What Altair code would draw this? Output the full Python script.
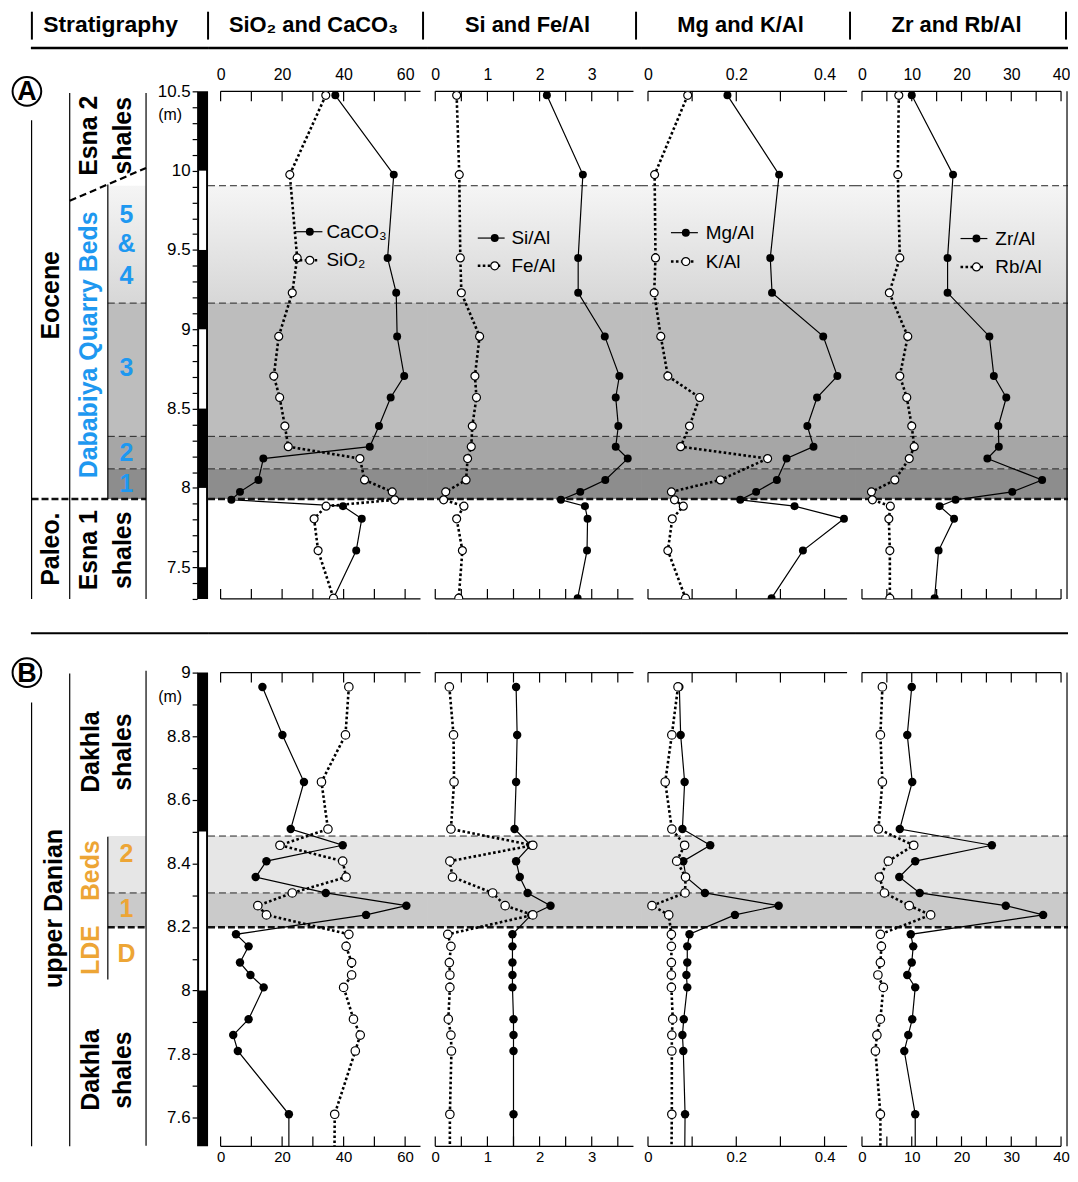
import altair as alt
import pandas as pd

FONT = "Liberation Sans"
NARROW = "Liberation Sans Narrow, Liberation Sans, Arial, sans-serif"
BLUE = "#1E98F0"
ORANGE = "#EDA535"

# ---------------- Section A (Eocene / Dababiya) ----------------
depth_A = [10.475, 9.975, 9.45, 9.23, 8.955, 8.705, 8.57, 8.39, 8.26, 8.185,
           8.05, 7.975, 7.925, 7.885, 7.805, 7.605, 7.305]
caco3_A = [37.3, 56.3, 54.3, 57.1, 57.4, 59.7, 55.3, 51.5, 48.5, 13.9, 12.3, 6.3, 3.5, 39.8, 45.9, 44.1, 36.7]
sio2_A = [34.2, 22.5, 24.9, 23.3, 18.9, 17.3, 19.2, 20.9, 22.0, 45.3, 46.8, 55.8, 56.6, 34.3, 30.4, 31.7, 36.7]
si_al_A = [2.14, 2.83, 2.74, 2.74, 3.25, 3.53, 3.46, 3.51, 3.46, 3.69, 3.26, 2.78, 2.41, 2.87, 2.92, 2.91, 2.73]
fe_al_A = [0.41, 0.46, 0.48, 0.50, 0.85, 0.76, 0.79, 0.71, 0.69, 0.62, 0.59, 0.20, 0.16, 0.55, 0.41, 0.52, 0.45]
mg_al_A = [0.180, 0.297, 0.277, 0.281, 0.397, 0.429, 0.383, 0.361, 0.375, 0.314, 0.292, 0.245, 0.209, 0.332, 0.444, 0.351, 0.280]
k_al_A = [0.090, 0.015, 0.017, 0.014, 0.029, 0.045, 0.117, 0.094, 0.074, 0.271, 0.164, 0.053, 0.060, 0.080, 0.055, 0.045, 0.085]
zr_al_A = [10.0, 18.3, 17.2, 17.2, 25.6, 26.5, 29.0, 27.4, 27.5, 25.2, 36.2, 30.2, 18.8, 15.6, 18.5, 15.4, 14.6]
rb_al_A = [7.4, 7.2, 7.6, 5.5, 9.2, 7.6, 9.0, 10.0, 10.5, 9.5, 6.6, 1.9, 2.1, 5.7, 5.4, 5.6, 5.6]

# ---------------- Section B (upper Danian / LDE) ----------------
depth_B = [8.955, 8.804, 8.656, 8.508, 8.457, 8.407, 8.357, 8.307, 8.267, 8.238,
           8.177, 8.139, 8.088, 8.049, 8.010, 7.910, 7.860, 7.810, 7.611, 7.45]
caco3_B = [13.6, 20.1, 27.1, 22.8, 39.7, 14.9, 11.4, 34.2, 60.4, 47.3, 5.0, 9.1, 6.3, 9.7, 14.0, 9.1, 4.1, 5.6, 22.2, 22.2]
sio2_B = [41.7, 40.6, 32.8, 34.9, 19.3, 39.7, 40.8, 23.3, 12.1, 14.9, 41.7, 40.8, 42.6, 42.6, 40.0, 43.2, 45.4, 43.8, 37.1, 37.0]
si_al_B = [1.55, 1.57, 1.55, 1.52, 1.83, 1.55, 1.62, 1.77, 2.21, 1.84, 1.48, 1.48, 1.48, 1.48, 1.48, 1.50, 1.50, 1.50, 1.50, 1.50]
fe_al_B = [0.27, 0.35, 0.36, 0.30, 1.87, 0.28, 0.33, 1.10, 1.34, 1.87, 0.24, 0.30, 0.27, 0.28, 0.28, 0.25, 0.30, 0.31, 0.28, 0.28]
mg_al_B = [0.071, 0.074, 0.083, 0.078, 0.141, 0.080, 0.086, 0.129, 0.296, 0.197, 0.094, 0.089, 0.089, 0.087, 0.089, 0.081, 0.078, 0.080, 0.084, 0.083]
k_al_B = [0.068, 0.054, 0.039, 0.054, 0.083, 0.065, 0.085, 0.084, 0.009, 0.047, 0.053, 0.053, 0.053, 0.053, 0.053, 0.056, 0.054, 0.054, 0.054, 0.053]
zr_al_B = [10.0, 9.1, 10.1, 7.6, 26.1, 10.7, 7.5, 11.6, 28.9, 36.4, 9.8, 10.3, 10.0, 9.1, 10.7, 10.1, 9.3, 8.5, 10.7, 10.7]
rb_al_B = [4.1, 3.7, 4.1, 3.3, 10.4, 5.3, 3.5, 4.5, 9.5, 13.8, 3.7, 3.9, 3.7, 3.2, 4.3, 3.7, 3.0, 2.7, 3.7, 3.7]

# ---------------- stratigraphic boundaries ----------------
band_top_A = [9.165, 8.325, 8.12]
band_bot_A = [8.325, 8.12, 7.93]
band_col_A = ["#bdbdbd", "#a6a6a6", "#8d8d8d"]
grad_band_A = [9.905, 9.165]
thin_A = [9.905, 9.165, 8.325, 8.12]
heavy_A = [7.93]

band_top_B = [8.486, 8.307]
band_bot_B = [8.307, 8.199]
band_col_B = ["#e6e6e6", "#cacaca"]
thin_B = [8.486, 8.307]
heavy_B = [8.199]

# ---------------- panel axes ----------------
header_names = ["Stratigraphy", "SiO\u2082 and CaCO\u2083", "Si and Fe/Al", "Mg and K/Al", "Zr and Rb/Al"]
panel_w = [220, 215, 215, 214]
panel_xdom = [[-4.08, 67.12], [-0.158, 3.945], [-0.0158, 0.469], [-1.4, 41.4]]
panel_ticks = [[0, 10, 20, 30, 40, 50, 60],
               [0, 0.5, 1, 1.5, 2, 2.5, 3, 3.5],
               [0, 0.1, 0.2, 0.3, 0.4],
               [0, 5, 10, 15, 20, 25, 30, 35, 40]]
panel_labels = [[0, 20, 40, 60], [0, 1, 2, 3], [0, 0.2, 0.4], [0, 10, 20, 30, 40]]
panel_amax = [65, 3.8, 0.451, 40]

solid_names = ["CaCO\u2083", "Si/Al", "Mg/Al", "Zr/Al"]
dotted_names = ["SiO\u2082", "Fe/Al", "K/Al", "Rb/Al"]

# legend placement (data units of each panel, depth)
leg_seg = [[24.1, 33.1], [0.815, 1.33], [0.052, 0.113], [19.8, 25.2]]
leg_mark = [29.0, 1.14, 0.0857, 23.0]
leg_text = [34.4, 1.46, 0.131, 26.8]
leg_depth_solid = [9.615, 9.575, 9.609, 9.572]
leg_depth_dotted = [9.435, 9.40, 9.427, 9.393]

# page-x extents of the five layout columns
col_bounds = [[8, 208], [208, 428], [428, 643], [643, 858], [858, 1072]]
header_x = [110, 314, 529, 743, 960]
header_fs = [23, 22, 22, 22, 22]
header_sep_x = [31, 208, 424, 638, 853, 1070]

GRAD = alt.Gradient(gradient="linear",
                    stops=[alt.GradientStop(color="#f5f5f5", offset=0),
                           alt.GradientStop(color="#d7d7d7", offset=1)],
                    x1=0, x2=0, y1=0, y2=1)

DOT = [2.6, 2.4]


def series_df(depths, vals):
    return pd.DataFrame({"depth": depths, "v": vals, "i": list(range(len(depths)))})


def make_panel(k, sec, solid, dotted, depths, legend):
    w = panel_w[k]
    H = sec["h"]
    xs = alt.Scale(domain=panel_xdom[k], nice=False, zero=False)
    ys = alt.Scale(domain=sec["ydom"], nice=False, zero=False)
    ax = alt.Axis(orient=sec["orient"], values=panel_labels[k], ticks=False, tickSize=0,
                  domain=False, grid=False, title=None, labelFontSize=sec["lfs"], labelFont=NARROW,
                  labelPadding=sec["lp"], labelOverlap=False, labelFlush=False, format="~r",
                  labelColor="black")

    def X(f):
        return alt.X(f, scale=xs, axis=ax)

    def Y(f):
        return alt.Y(f, scale=ys, axis=None)

    L = []
    bdf = pd.DataFrame({"top": sec["btop"], "bot": sec["bbot"], "fill": sec["bcol"]})
    L.append(alt.Chart(bdf).mark_rect().encode(
        x=alt.value(0), x2=alt.value(w), y=Y("top:Q"), y2="bot:Q",
        color=alt.Color("fill:N", scale=None)))
    if sec["grad"] is not None:
        gdf = pd.DataFrame({"top": [sec["grad"][0]], "bot": [sec["grad"][1]]})
        L.append(alt.Chart(gdf).mark_rect(color=GRAD).encode(
            x=alt.value(0), x2=alt.value(w), y=Y("top:Q"), y2="bot:Q"))
    L.append(alt.Chart(pd.DataFrame({"d": sec["thin"]})).mark_rule(
        color="#222222", strokeWidth=1, strokeDash=[7, 4]).encode(
        y=Y("d:Q"), x=alt.value(0), x2=alt.value(w)))
    L.append(alt.Chart(pd.DataFrame({"d": sec["heavy"]})).mark_rule(
        color="#111111", strokeWidth=2.6, strokeDash=[7, 3]).encode(
        y=Y("d:Q"), x=alt.value(0), x2=alt.value(w)))
    adf = pd.DataFrame({"a": [0], "b": [panel_amax[k]]})
    for yy in (0, H):
        L.append(alt.Chart(adf).mark_rule(color="black", strokeWidth=1.2).encode(
            x=X("a:Q"), x2="b:Q", y=alt.value(yy)))
    tdf = pd.DataFrame({"t": panel_ticks[k]})
    L.append(alt.Chart(tdf).mark_rule(color="black", strokeWidth=1.2).encode(
        x=X("t:Q"), y=alt.value(0), y2=alt.value(10)))
    L.append(alt.Chart(tdf).mark_rule(color="black", strokeWidth=1.2).encode(
        x=X("t:Q"), y=alt.value(H - 10), y2=alt.value(H)))
    if k == 3:
        L.append(alt.Chart(pd.DataFrame({"r": [41.2]})).mark_rule(color="black", strokeWidth=1.2).encode(
            x=X("r:Q"), y=alt.value(0), y2=alt.value(H)))
    sdf = series_df(depths, solid)
    ddf = series_df(depths, dotted)
    L.append(alt.Chart(ddf).mark_line(color="black", strokeWidth=2.6, strokeDash=DOT,
                                      strokeCap="butt", clip=True).encode(
        x=X("v:Q"), y=Y("depth:Q"), order="i:Q"))
    L.append(alt.Chart(sdf).mark_line(color="black", strokeWidth=1.2, clip=True).encode(
        x=X("v:Q"), y=Y("depth:Q"), order="i:Q"))
    L.append(alt.Chart(sdf).mark_point(shape="circle", filled=True, color="black", opacity=1,
                                       size=sec["ms"], clip=True).encode(
        x=X("v:Q"), y=Y("depth:Q")))
    L.append(alt.Chart(ddf).mark_point(shape="circle", filled=True, fill="white", stroke="black",
                                       strokeWidth=1.2, opacity=1, size=sec["ms"], clip=True).encode(
        x=X("v:Q"), y=Y("depth:Q")))
    if legend:
        seg = pd.DataFrame({"x1": [leg_seg[k][0]], "x2": [leg_seg[k][1]],
                            "d": [leg_depth_solid[k]]})
        segd = pd.DataFrame({"x1": [leg_seg[k][0]], "x2": [leg_seg[k][1] - 0.1 * (leg_seg[k][1] - leg_seg[k][0])],
                             "d": [leg_depth_dotted[k]]})
        L.append(alt.Chart(seg).mark_rule(color="black", strokeWidth=1.2).encode(
            x=X("x1:Q"), x2="x2:Q", y=Y("d:Q")))
        L.append(alt.Chart(segd).mark_rule(color="black", strokeWidth=2.6, strokeDash=DOT).encode(
            x=X("x1:Q"), x2="x2:Q", y=Y("d:Q")))
        ms = pd.DataFrame({"x": [leg_mark[k]], "d": [leg_depth_solid[k]]})
        md = pd.DataFrame({"x": [leg_mark[k]], "d": [leg_depth_dotted[k]]})
        L.append(alt.Chart(ms).mark_point(shape="circle", filled=True, color="black", opacity=1,
                                          size=sec["ms"]).encode(x=X("x:Q"), y=Y("d:Q")))
        L.append(alt.Chart(md).mark_point(shape="circle", filled=True, fill="white", stroke="black",
                                          strokeWidth=1.2, opacity=1, size=sec["ms"]).encode(
            x=X("x:Q"), y=Y("d:Q")))
        lt = pd.DataFrame({"x": [leg_text[k], leg_text[k]],
                           "d": [leg_depth_solid[k], leg_depth_dotted[k]],
                           "t": [solid_names[k], dotted_names[k]]})
        L.append(alt.Chart(lt).mark_text(align="left", baseline="middle", fontSize=19,
                                         font=FONT, color="black").encode(
            x=X("x:Q"), y=Y("d:Q"), text="t:N"))
    return alt.layer(*L).properties(width=w, height=H)


def make_strat(sec, st):
    H = sec["h"]
    xs = alt.Scale(domain=[8, 208], nice=False, zero=False)
    ys = alt.Scale(domain=sec["ydom"], nice=False, zero=False)
    yax = alt.Axis(orient="left", offset=-189, values=sec["yvals"], labelExpr=sec["lexpr"],
                   tickSize=5, tickWidth=1.2, tickColor="black", domain=False, grid=False,
                   title=None, labelFontSize=17, labelFont=FONT, labelPadding=2,
                   labelColor="black", format=".1~f", labelOverlap=False, labelFlush=False)

    def X(f):
        return alt.X(f, scale=xs, axis=None)

    def Y(f):
        return alt.Y(f, scale=ys, axis=yax)

    L = []
    bdf = pd.DataFrame({"top": sec["btop"], "bot": sec["bbot"], "fill": sec["bcol"],
                        "x1": [107.3] * len(sec["btop"]), "x2": [145.7] * len(sec["btop"])})
    L.append(alt.Chart(bdf).mark_rect().encode(
        x=X("x1:Q"), x2="x2:Q", y=Y("top:Q"), y2="bot:Q",
        color=alt.Color("fill:N", scale=None)))
    if sec["grad"] is not None:
        gdf = pd.DataFrame({"top": [sec["grad"][0]], "bot": [sec["grad"][1]],
                            "x1": [107.3], "x2": [145.7]})
        L.append(alt.Chart(gdf).mark_rect(color=GRAD).encode(
            x=X("x1:Q"), x2="x2:Q", y=Y("top:Q"), y2="bot:Q"))
    L.append(alt.Chart(st["thin"]).mark_rule(color="#222222", strokeWidth=1, strokeDash=[7, 4]).encode(
        x=X("x1:Q"), x2="x2:Q", y=Y("d:Q")))
    L.append(alt.Chart(st["heavy"]).mark_rule(color="#111111", strokeWidth=2.6, strokeDash=[7, 3]).encode(
        x=X("x1:Q"), x2="x2:Q", y=Y("d:Q")))
    L.append(alt.Chart(st["vlines"]).mark_rule(color="black", strokeWidth=1.2).encode(
        x=X("x:Q"), y=Y("y1:Q"), y2="y2:Q"))
    if st.get("diag") is not None:
        L.append(alt.Chart(st["diag"]).mark_line(color="black", strokeWidth=2.2, strokeDash=[7, 4]).encode(
            x=X("x:Q"), y=Y("d:Q"), order="x:Q"))
    bar = pd.DataFrame({"x1": [197.0], "x2": [208.0], "top": [sec["ydom"][1]], "bot": [sec["ydom"][0]]})
    L.append(alt.Chart(bar).mark_rect(color="black").encode(
        x=X("x1:Q"), x2="x2:Q", y=Y("top:Q"), y2="bot:Q"))
    L.append(alt.Chart(st["white"]).mark_rect(color="white").encode(
        x=X("x1:Q"), x2="x2:Q", y=Y("top:Q"), y2="bot:Q"))
    L.append(alt.Chart(st["rot"]).mark_text(angle=270, align="center", baseline="middle",
                                            fontSize=25, fontWeight="bold", font=FONT).encode(
        x=X("x:Q"), y=Y("d:Q"), text="t:N", color=alt.Color("c:N", scale=None)))
    L.append(alt.Chart(st["up"]).mark_text(align="center", baseline="middle",
                                           fontSize=25, fontWeight="bold", font=FONT).encode(
        x=X("x:Q"), y=Y("d:Q"), text="t:N", color=alt.Color("c:N", scale=None)))
    L.append(alt.Chart(st["m"]).mark_text(align="center", baseline="middle", fontSize=16,
                                          font=FONT, color="black").encode(
        x=X("x:Q"), y=Y("d:Q"), text="t:N"))
    L.append(alt.Chart(st["circ"]).mark_point(shape="circle", filled=True, fill="white",
                                              stroke="black", strokeWidth=2, opacity=1,
                                              size=830).encode(x=X("x:Q"), y=Y("d:Q")))
    L.append(alt.Chart(st["circ"]).mark_text(align="center", baseline="middle", fontSize=27,
                                             fontWeight="bold", font=FONT, color="black", dy=1).encode(
        x=X("x:Q"), y=Y("d:Q"), text="t:N"))
    return alt.layer(*L).properties(width=200, height=H)


secA = dict(h=510, ydom=[7.3, 10.5], orient="top", lp=9, lfs=16, ms=64,
            btop=band_top_A, bbot=band_bot_A, bcol=band_col_A, grad=grad_band_A,
            thin=thin_A, heavy=heavy_A,
            yvals=[round(7.3 + 0.1 * i, 1) for i in range(33)],
            lexpr="abs(datum.value*2 - round(datum.value*2)) < 0.001 ? datum.label : ''")
secB = dict(h=476, ydom=[7.51, 9.0], orient="bottom", lp=3, lfs=15, ms=72,
            btop=band_top_B, bbot=band_bot_B, bcol=band_col_B, grad=None,
            thin=thin_B, heavy=heavy_B,
            yvals=[round(7.6 + 0.1 * i, 1) for i in range(15)],
            lexpr="abs(datum.value*5 - round(datum.value*5)) < 0.001 ? datum.label : ''")

stA = dict(
    thin=pd.DataFrame({"x1": [107.3] * 3, "x2": [145.7] * 3, "d": [9.165, 8.325, 8.12]}),
    heavy=pd.DataFrame({"x1": [30.7], "x2": [145.7], "d": [7.93]}),
    vlines=pd.DataFrame({"x": [30.7, 69.0, 107.3, 145.7],
                         "y1": [10.318, 10.49, 9.913, 10.49],
                         "y2": [7.3, 7.3, 7.93, 7.3]}),
    diag=pd.DataFrame({"x": [69.0, 145.7], "d": [9.81, 10.017]}),
    white=pd.DataFrame({"x1": [199.0] * 3, "x2": [206.0] * 3,
                        "top": [10.0, 9.0, 8.0], "bot": [9.5, 8.5, 7.5]}),
    rot=pd.DataFrame({"t": ["Eocene", "Paleo.", "Esna 2", "shales", "Esna 1", "shales",
                            "Dababiya Quarry Beds"],
                      "x": [50, 50, 88, 123, 88, 123, 88],
                      "d": [9.214, 7.614, 10.22, 10.22, 7.607, 7.607, 8.902],
                      "c": ["black"] * 6 + [BLUE]}),
    up=pd.DataFrame({"t": ["5", "&", "4", "3", "2", "1"],
                     "x": [126] * 6,
                     "d": [9.722, 9.537, 9.338, 8.755, 8.22, 8.022],
                     "c": [BLUE] * 6}),
    m=pd.DataFrame({"t": ["(m)"], "x": [170], "d": [10.35]}),
    circ=pd.DataFrame({"t": ["A"], "x": [26], "d": [10.5]}),
)
stB = dict(
    thin=pd.DataFrame({"x1": [107.3], "x2": [145.7], "d": [8.307]}),
    heavy=pd.DataFrame({"x1": [107.3], "x2": [145.7], "d": [8.199]}),
    vlines=pd.DataFrame({"x": [30.7, 69.0, 107.3, 145.7],
                         "y1": [8.906, 8.997, 8.484, 9.006],
                         "y2": [7.51, 7.51, 8.035, 7.512]}),
    diag=None,
    white=pd.DataFrame({"x1": [199.0], "x2": [206.0], "top": [8.5], "bot": [8.0]}),
    rot=pd.DataFrame({"t": ["upper Danian", "Beds", "LDE", "Dakhla", "shales", "Dakhla", "shales"],
                      "x": [53, 90, 90, 90, 123, 90, 123],
                      "d": [8.258, 8.377, 8.127, 8.75, 8.75, 7.75, 7.75],
                      "c": ["black", ORANGE, ORANGE, "black", "black", "black", "black"]}),
    up=pd.DataFrame({"t": ["2", "1", "D"], "x": [126] * 3, "d": [8.43, 8.255, 8.115],
                     "c": [ORANGE] * 3}),
    m=pd.DataFrame({"t": ["(m)"], "x": [170], "d": [8.922]}),
    circ=pd.DataFrame({"t": ["B"], "x": [26], "d": [9.0]}),
)

series_A = [(caco3_A, sio2_A), (si_al_A, fe_al_A), (mg_al_A, k_al_A), (zr_al_A, rb_al_A)]
series_B = [(caco3_B, sio2_B), (si_al_B, fe_al_B), (mg_al_B, k_al_B), (zr_al_B, rb_al_B)]

cellsA = [make_strat(secA, stA)] + [make_panel(k, secA, s, d, depth_A, True) for k, (s, d) in enumerate(series_A)]
cellsB = [make_strat(secB, stB)] + [make_panel(k, secB, s, d, depth_B, False) for k, (s, d) in enumerate(series_B)]


# ---------------- header cells and separator cells ----------------
HEAD_TOP = 12


def header_cell(c):
    L0, R0 = col_bounds[c]
    w = R0 - L0
    hx = alt.Scale(domain=[L0, R0], nice=False, zero=False)
    hy = alt.Scale(domain=[HEAD_TOP, 93], nice=False, zero=False, reverse=True)
    txt = pd.DataFrame({"t": [header_names[c]], "x": [header_x[c]], "y": [26], "fs": [header_fs[c]]})
    seps = [s for s in header_sep_x if L0 <= s < R0 or (c == 4 and L0 <= s <= R0)]
    sdf = pd.DataFrame({"x": seps, "y1": [HEAD_TOP + 1] * len(seps), "y2": [41] * len(seps)})
    ldf = pd.DataFrame({"x1": [max(L0, 30)], "x2": [R0], "y": [49.5]})
    return alt.layer(
        alt.Chart(txt).mark_text(fontWeight="bold", font=FONT, align="center",
                                 baseline="middle", color="black").encode(
            x=alt.X("x:Q", scale=hx, axis=None), y=alt.Y("y:Q", scale=hy, axis=None),
            text="t:N", size=alt.Size("fs:Q", scale=None)),
        alt.Chart(sdf).mark_rule(color="black", strokeWidth=2).encode(
            x=alt.X("x:Q", scale=hx, axis=None), y=alt.Y("y1:Q", scale=hy, axis=None), y2="y2:Q"),
        alt.Chart(ldf).mark_rule(color="black", strokeWidth=2.5).encode(
            x=alt.X("x1:Q", scale=hx, axis=None), x2="x2:Q", y=alt.Y("y:Q", scale=hy, axis=None)),
    ).properties(width=w, height=93 - HEAD_TOP)


def sep_cell(c):
    L0, R0 = col_bounds[c]
    w = R0 - L0
    hx = alt.Scale(domain=[L0, R0], nice=False, zero=False)
    sy = alt.Scale(domain=[603, 677], nice=False, zero=False, reverse=True)
    ldf = pd.DataFrame({"x1": [max(L0, 30)], "x2": [R0], "y": [637.5]})
    return alt.Chart(ldf).mark_rule(color="black", strokeWidth=2).encode(
        x=alt.X("x1:Q", scale=hx, axis=None), x2="x2:Q", y=alt.Y("y:Q", scale=sy, axis=None)
    ).properties(width=w, height=74)


cells = ([header_cell(c) for c in range(5)] + cellsA +
         [sep_cell(c) for c in range(5)] + cellsB)

chart = alt.concat(*cells, columns=5, spacing=0, bounds="flush").properties(
    padding=0
).configure(font=FONT).configure_view(stroke=None)

chart.save("out.html", embed_options={"renderer": "svg", "actions": False})
